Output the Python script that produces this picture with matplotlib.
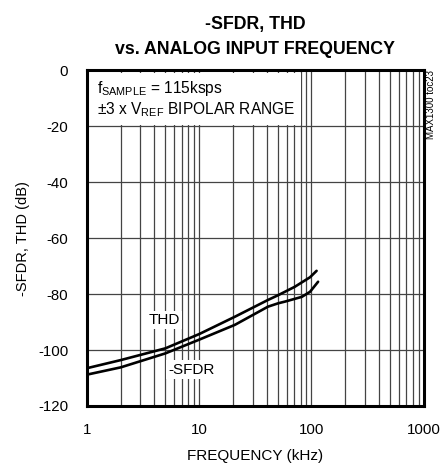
import matplotlib
matplotlib.use('Agg')
import matplotlib.pyplot as plt
from matplotlib.ticker import FixedLocator, NullFormatter

plt.rcParams['font.family'] = ['Liberation Sans', 'DejaVu Sans']
plt.rcParams['mathtext.default'] = 'regular'
plt.rcParams['axes.unicode_minus'] = False

# curve data (kHz, dB)
thd_freq = [1, 2, 5, 10, 20.8, 41, 50.5, 71, 97, 111]
thd_db = [-106.5, -103.6, -99.4, -94.3, -88.1, -82.1, -80.4, -77.4, -74.0, -71.7]
sfdr_freq = [1, 2, 5, 10, 20.8, 41, 50.5, 58, 82, 97, 114.5]
sfdr_db = [-108.8, -106.2, -101.2, -96.3, -91.0, -84.5, -83.3, -82.7, -81.0, -79.2, -75.6]

x_ticks = [1, 10, 100, 1000]
x_labels = ['1', '10', '100', '1000']
y_ticks = [0, -20, -40, -60, -80, -100, -120]

fig = plt.figure(figsize=(4.41, 4.68), dpi=100)
ax = fig.add_axes([0.197, 0.1325, 0.764, 0.7175])

ax.plot(thd_freq, thd_db, color='black', lw=1.9, solid_capstyle='round', zorder=4)
ax.plot(sfdr_freq, sfdr_db, color='black', lw=1.9, solid_capstyle='round', zorder=4)

ax.set_xscale('log')
ax.set_xlim(1, 1000)
ax.set_ylim(-120, 0)
ax.set_xticks(x_ticks)
ax.set_xticklabels(x_labels)
minors = [m * d for d in (1, 10, 100) for m in range(2, 10)]
ax.xaxis.set_minor_locator(FixedLocator(minors))
ax.xaxis.set_minor_formatter(NullFormatter())
ax.set_yticks(y_ticks)
ax.tick_params(which='both', length=0, labelsize=10.8)
ax.tick_params(axis='y', pad=13.5)
ax.tick_params(axis='x', pad=12)

ax.grid(True, which='both', axis='x', color='#444444', lw=0.9)
ax.grid(True, which='major', axis='y', color='#444444', lw=0.9)
for s in ax.spines.values():
    s.set_linewidth(2.2)
    s.set_zorder(5)

ax.set_xlabel('FREQUENCY (kHz)', fontsize=11, labelpad=9)
ax.set_ylabel('-SFDR, THD (dB)', fontsize=10.5, labelpad=6)
ax.set_title('-SFDR, THD\nvs. ANALOG INPUT FREQUENCY', fontsize=12.8,
             fontweight='bold', pad=12, linespacing=1.6)

ax.text(0.03, 0.975, 'f$_{SAMPLE}$ = 115ksps\n\u00b13 x V$_{REF}$ BIPOLAR RANGE',
        transform=ax.transAxes, ha='left', va='top', fontsize=11.2,
        linespacing=1.2, zorder=3,
        bbox=dict(boxstyle='square,pad=0.35', fc='white', ec='none'))

ax.text(3.55, -89.2, 'THD', fontsize=11, ha='left', va='center', zorder=3,
        bbox=dict(boxstyle='square,pad=0.15', fc='white', ec='none'))
ax.text(5.3, -107.0, '-SFDR', fontsize=11, ha='left', va='center', zorder=3,
        bbox=dict(boxstyle='square,pad=0.15', fc='white', ec='none'))

fig.text(0.978, 0.85, 'MAX1300 toc23', rotation=90, fontsize=7,
         ha='center', va='top')

fig.savefig('out.png', dpi=100)
